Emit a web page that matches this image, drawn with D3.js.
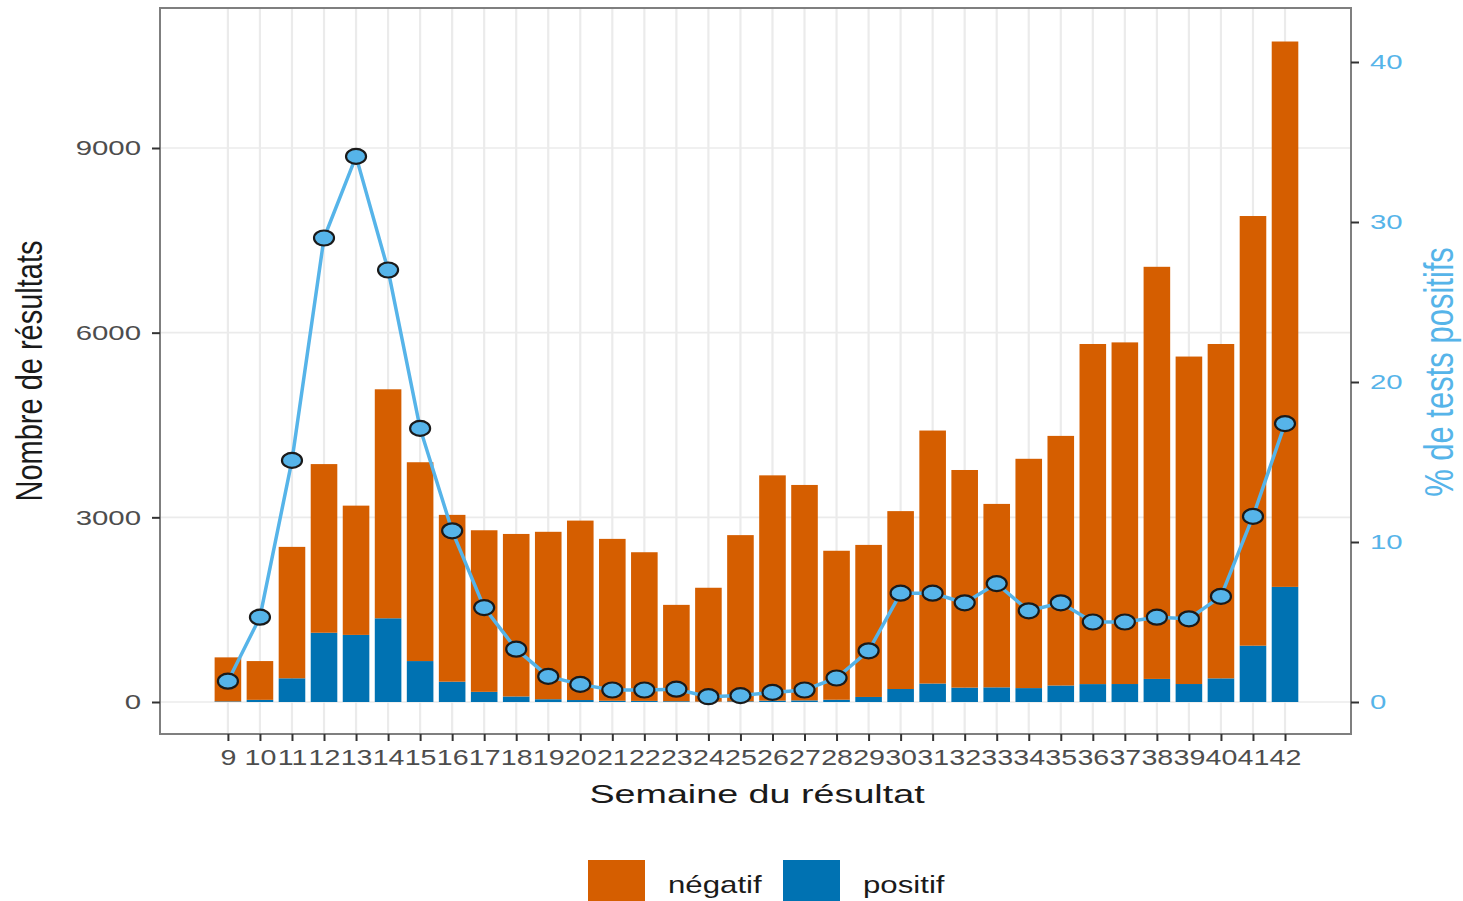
<!DOCTYPE html>
<html>
<head>
<meta charset="utf-8">
<script src="https://cdn.jsdelivr.net/npm/d3@7"></script>
<style>
  body { margin: 0; background: #fff; }
  text { font-family: "Liberation Sans", Arial, sans-serif; }
</style>
</head>
<body>
<div class="chart"></div>
<script>
// weeks, counts and %
const semaines = [9,10,11,12,13,14,15,16,17,18,19,20,21,22,23,24,25,26,27,28,29,30,31,32,33,34,35,36,37,38,39,40,41,42];
const positif  = [10,35,385,1125,1090,1360,665,330,165,90,45,32,20,18,13,6,11,22,26,37,82,211,300,234,238,226,268,291,292,375,292,384,915,1870];
const negatif  = [715,630,2135,2740,2100,3720,3230,2710,2625,2640,2720,2915,2630,2415,1565,1850,2700,3660,3500,2420,2470,2890,4110,3535,2980,3725,4055,5525,5550,6695,5320,5432,6980,8860];
const pctPositif = [1.3,5.3,15.1,29.0,34.1,27.0,17.1,10.7,5.9,3.3,1.6,1.1,0.75,0.75,0.8,0.33,0.4,0.6,0.75,1.5,3.2,6.8,6.8,6.2,7.4,5.7,6.2,5.0,5.0,5.3,5.2,6.6,11.6,17.4];
const countTicks = [0,3000,6000,9000];
const pctTicks = [0,10,20,30,40];

const width = 1463, height = 901;
const panel = {left: 160, right: 1351, top: 8, bottom: 734};
const sx = 1.4;   // the reference is stretched horizontally

const cOrange = "#D55E00", cBlue = "#0072B2", cLine = "#56B4E9";

let svg = d3.select(".chart").append("svg")
  .attr("width", width)
  .attr("height", height);

let x = d3.scaleLinear()
  .domain([6.88, 44.06])
  .range([panel.left, panel.right]);

let y = d3.scaleLinear()
  .domain([0, 9000])
  .range([702, 148]);

let y2 = d3.scaleLinear()
  .domain([0, 40])
  .range([702, 62]);

// grid
let grid = svg.append("g").attr("id", "grid");
grid.selectAll(".vgrid")
  .data(semaines)
  .enter().append("line")
    .attr("x1", d => x(d)).attr("x2", d => x(d))
    .attr("y1", panel.top).attr("y2", panel.bottom)
    .attr("stroke", "#ebebeb")
    .attr("stroke-width", 2.2);
grid.selectAll(".hgrid")
  .data(countTicks)
  .enter().append("line")
    .attr("x1", panel.left).attr("x2", panel.right)
    .attr("y1", d => y(d)).attr("y2", d => y(d))
    .attr("stroke", "#ebebeb")
    .attr("stroke-width", 1.6);

// stacked bars
let rows = semaines.map((s, i) => ({semaine: s, positif: positif[i], "négatif": negatif[i]}));
let stack = d3.stack().keys(["positif", "négatif"])(rows);
let colour = d3.scaleOrdinal().domain(["négatif", "positif"]).range([cOrange, cBlue]);
let bw = (x(1) - x(0)) * 0.83;

svg.append("g").attr("id", "bars")
  .selectAll("g")
  .data(stack)
  .enter().append("g")
    .attr("fill", d => colour(d.key))
  .selectAll("rect")
  .data(d => d)
  .enter().append("rect")
    .attr("x", d => x(d.data.semaine) - bw / 2)
    .attr("width", bw)
    .attr("y", d => y(d[1]))
    .attr("height", d => y(d[0]) - y(d[1]));

// % line
let line = d3.line()
  .x((d, i) => x(semaines[i]))
  .y(d => y2(d));

svg.append("path")
  .datum(pctPositif)
  .attr("fill", "none")
  .attr("stroke", cLine)
  .attr("stroke-width", 3.5)
  .attr("d", line);

svg.append("g").attr("id", "points")
  .selectAll("ellipse")
  .data(pctPositif)
  .enter().append("ellipse")
    .attr("cx", (d, i) => x(semaines[i]))
    .attr("cy", d => y2(d))
    .attr("rx", 10)
    .attr("ry", 7.5)
    .attr("fill", cLine)
    .attr("stroke", "#1a1a1a")
    .attr("stroke-width", 2.2);

// panel border
svg.append("rect")
  .attr("x", panel.left).attr("y", panel.top)
  .attr("width", panel.right - panel.left)
  .attr("height", panel.bottom - panel.top)
  .attr("fill", "none")
  .attr("stroke", "#7f7f7f")
  .attr("stroke-width", 2);

// axes
let yAxis = svg.append("g")
  .attr("transform", "translate(" + panel.left + ",0)")
  .call(d3.axisLeft(y).tickValues(countTicks).tickFormat(d3.format("d")).tickSize(8));
yAxis.select(".domain").remove();
yAxis.selectAll("line").attr("stroke", "#333").attr("stroke-width", 2);
yAxis.selectAll("text")
  .attr("x", -19 / sx)
  .attr("transform", "scale(" + sx + ",1)")
  .attr("fill", "#4d4d4d")
  .style("font-size", "21px");

let y2Axis = svg.append("g")
  .attr("transform", "translate(" + panel.right + ",0)")
  .call(d3.axisRight(y2).tickValues(pctTicks).tickSize(8));
y2Axis.select(".domain").remove();
y2Axis.selectAll("line").attr("stroke", "#333").attr("stroke-width", 2);
y2Axis.selectAll("text")
  .attr("x", 19 / sx)
  .attr("transform", "scale(" + sx + ",1)")
  .attr("fill", cLine)
  .style("font-size", "21px");

let xAxis = svg.append("g")
  .attr("transform", "translate(0," + panel.bottom + ")")
  .call(d3.axisBottom(x).tickValues(semaines).tickFormat(d3.format("d")).tickSize(7));
xAxis.select(".domain").remove();
xAxis.selectAll("line").attr("stroke", "#333").attr("stroke-width", 2);
xAxis.selectAll("text")
  .attr("y", 15)
  .attr("transform", "scale(1.3,1)")
  .attr("fill", "#4d4d4d")
  .style("font-size", "22px");

// titles
svg.append("text")
  .attr("transform", "translate(757,803) scale(1.45,1)")
  .attr("text-anchor", "middle")
  .attr("fill", "#1a1a1a")
  .style("font-size", "26px")
  .text("Semaine du résultat");

svg.append("text")
  .attr("transform", "translate(42,371) scale(1.3,1) rotate(-90)")
  .attr("text-anchor", "middle")
  .attr("fill", "#1a1a1a")
  .style("font-size", "29px")
  .text("Nombre de résultats");

svg.append("text")
  .attr("transform", "translate(1453,372) scale(1.3,1) rotate(-90)")
  .attr("text-anchor", "middle")
  .attr("fill", cLine)
  .style("font-size", "31px")
  .text("% de tests positifs");

// legend
let legend = svg.append("g").attr("id", "legend");
let legendItems = [{key: "négatif", x: 588}, {key: "positif", x: 783}];
legend.selectAll("rect")
  .data(legendItems)
  .enter().append("rect")
    .attr("x", d => d.x)
    .attr("y", 860)
    .attr("width", 57)
    .attr("height", 42)
    .attr("fill", d => colour(d.key));
legend.selectAll("text")
  .data(legendItems)
  .enter().append("text")
    .attr("transform", d => "translate(" + (d.x + 80) + ",893) scale(1.3,1)")
    .attr("fill", "#1a1a1a")
    .style("font-size", "24px")
    .text(d => d.key);
</script>
</body>
</html>
